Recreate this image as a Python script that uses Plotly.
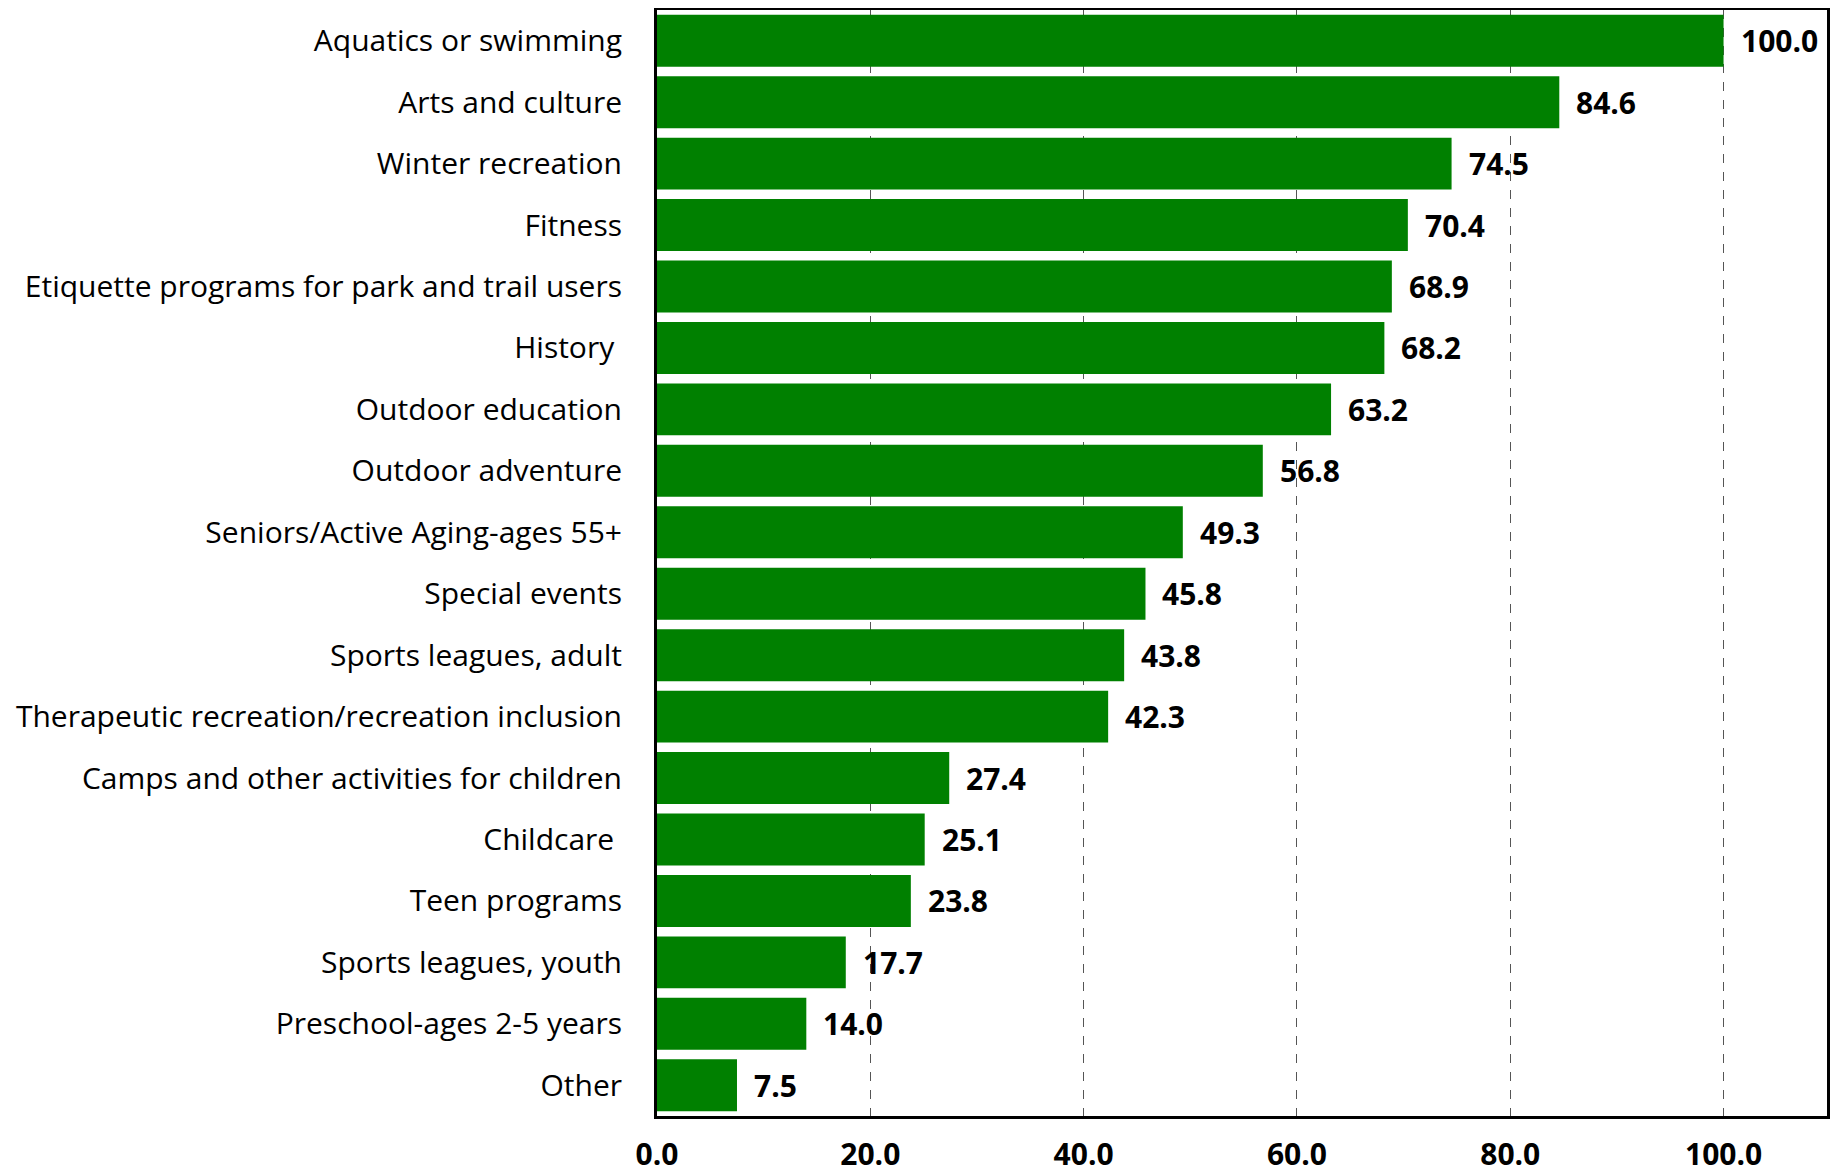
import plotly.graph_objects as go

categories = [
    "Aquatics or swimming", "Arts and culture", "Winter recreation", "Fitness",
    "Etiquette programs for park and trail users", "History ", "Outdoor education",
    "Outdoor adventure", "Seniors/Active Aging-ages 55+", "Special events",
    "Sports leagues, adult", "Therapeutic recreation/recreation inclusion",
    "Camps and other activities for children", "Childcare ", "Teen programs",
    "Sports leagues, youth", "Preschool-ages 2-5 years", "Other",
]
values = [100.0, 84.6, 74.5, 70.4, 68.9, 68.2, 63.2, 56.8, 49.3, 45.8, 43.8, 42.3,
          27.4, 25.1, 23.8, 17.7, 14.0, 7.5]
tick_vals = [0, 20, 40, 60, 80, 100]
tick_text = ["0.0", "20.0", "40.0", "60.0", "80.0", "100.0"]

fig = go.Figure(go.Bar(
    x=values, y=categories, orientation="h",
    marker=dict(color="#008000", line=dict(width=0)),
    hoverinfo="x+y",
))

for c, v in zip(categories, values):
    fig.add_annotation(
        x=v, y=c, text=f"{v:.1f}", showarrow=False,
        xanchor="left", yanchor="middle", xshift=15,
        font=dict(family="Open Sans", size=30, color="black", weight="bold"),
    )

# page body has an 8px default margin, so the figure is sized to fit the window
fig.update_layout(
    width=1831, height=1167,
    margin=dict(l=649, r=12, t=2, b=59, autoexpand=False),
    plot_bgcolor="white", paper_bgcolor="white",
    bargap=0.155, showlegend=False,
    font=dict(family="Open Sans", color="black"),
)
fig.update_xaxes(
    range=[0, 109.7], tickvals=tick_vals, ticktext=tick_text,
    showgrid=True, gridcolor="#555555", griddash="dash", gridwidth=1,
    showline=True, linecolor="black", linewidth=3, mirror=True,
    ticks="", zeroline=False,
    tickfont=dict(family="Open Sans", size=30, color="black", weight="bold"),
    ticklabelstandoff=10,
)
fig.update_yaxes(
    autorange="reversed",
    showline=True, linecolor="black", linewidth=3, mirror=True,
    ticks="", showgrid=False,
    tickfont=dict(family="Open Sans", size=30, color="black"),
    ticklabelstandoff=26,
)

fig.write_html("out.html")
